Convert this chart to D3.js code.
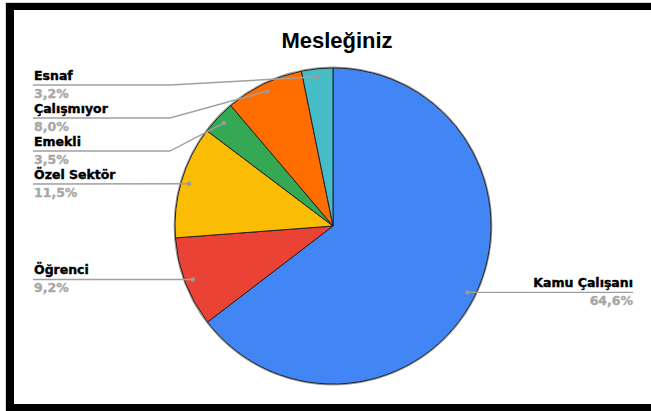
<!DOCTYPE html>
<html>
<head>
<meta charset="utf-8">
<script src="https://cdn.jsdelivr.net/npm/d3@7"></script>
<style>
  body { margin: 0; background: #fff; }
  svg { display: block; }
</style>
</head>
<body>
<svg></svg>
<script>
const categories = ["Kamu Çalışanı", "Öğrenci", "Özel Sektör", "Emekli", "Çalışmıyor", "Esnaf"];
const values = [64.6, 9.2, 11.5, 3.5, 8.0, 3.2];
const colors = ["#4285f4", "#ea4335", "#fbbc04", "#34a853", "#ff6d01", "#46bdc6"];
const title = "Mesleğiniz";

const width = 651;
const height = 411;

const svg = d3.select('svg')
  .attr("width", width)
  .attr("height", height)
  .attr("viewBox", [0, 0, width, height]);

// frame (cropped screenshot of a bordered chart)
svg.append("rect").attr("x", 0).attr("y", 0).attr("width", width).attr("height", height).attr("fill", "#fff");
svg.append("rect").attr("x", 5).attr("y", 2).attr("width", width).attr("height", 1).attr("fill", "#d8d8d8");
svg.append("rect").attr("x", 5).attr("y", 2).attr("width", 1).attr("height", height).attr("fill", "#d8d8d8");
svg.append("rect").attr("x", 6).attr("y", 3).attr("width", width).attr("height", 7).attr("fill", "#000");
svg.append("rect").attr("x", 6).attr("y", 3).attr("width", 8).attr("height", height).attr("fill", "#000");
svg.append("rect").attr("x", 6).attr("y", 404).attr("width", width).attr("height", 7).attr("fill", "#000");

svg.append("text")
  .attr("x", 337)
  .attr("y", 48)
  .attr("text-anchor", "middle")
  .attr("font-family", "Liberation Sans, Arial, sans-serif")
  .attr("font-weight", "bold")
  .attr("font-size", 22)
  .attr("fill", "#000")
  .text(title);

const cx = 333, cy = 226, radius = 158;

const data = categories.map((c, i) => ({name: c, value: values[i], color: colors[i]}));

const pie = d3.pie().sort(null).value(d => d.value);
const arcs = pie(data);

const arc = d3.arc().innerRadius(0).outerRadius(radius);
const dotArc = d3.arc().innerRadius(150).outerRadius(150);

const g = svg.append("g").attr("transform", `translate(${cx},${cy})`);

g.append("circle")
  .attr("r", radius + 0.8)
  .attr("fill", "none")
  .attr("stroke", "#9a9a9a")
  .attr("stroke-width", 1.2);

g.selectAll("path.slice")
  .data(arcs)
  .join("path")
  .attr("class", "slice")
  .attr("d", arc)
  .attr("fill", d => d.data.color)
  .attr("stroke", "#222")
  .attr("stroke-width", 1);

// label layout
const lineColor = "#a0a0a0";
const nameFont = "DejaVu Sans, Verdana, sans-serif";
const items = arcs.map(a => {
  const [x, y] = dotArc.centroid(a);
  return {a, dx: cx + x, dy: cy + y, right: x > 0};
});

const left = items.filter(d => !d.right).sort((p, q) => p.dy - q.dy);
let prev = -Infinity;
left.forEach(d => {
  d.ly = Math.max(d.dy, prev + 33, 85);
  prev = d.ly;
});
items.filter(d => d.right).forEach(d => { d.ly = d.dy; });

const labels = svg.append("g");

items.forEach(d => {
  const pts = d.right
    ? [[d.dx, d.dy], [633, d.ly]]
    : (Math.abs(d.ly - d.dy) < 1 ? [[33, d.ly], [d.dx, d.dy]] : [[33, d.ly], [170, d.ly], [d.dx, d.dy]]);
  labels.append("path")
    .attr("d", d3.line()(pts))
    .attr("fill", "none")
    .attr("stroke", lineColor)
    .attr("stroke-width", 1.4);
  labels.append("circle")
    .attr("cx", d.dx).attr("cy", d.dy).attr("r", 2.2)
    .attr("fill", "#9a9a9a");

  const tx = d.right ? 633 : 34;
  const anchor = d.right ? "end" : "start";
  labels.append("text")
    .attr("x", tx).attr("y", d.ly - 5)
    .attr("text-anchor", anchor)
    .attr("font-family", nameFont)
    .attr("font-weight", "bold")
    .attr("font-size", 12.5)
    .attr("fill", "#000")
    .attr("stroke", "#000")
    .attr("stroke-width", 0.4)
    .text(d.a.data.name);
  labels.append("text")
    .attr("x", tx).attr("y", d.ly + 13)
    .attr("text-anchor", anchor)
    .attr("font-family", nameFont)
    .attr("font-weight", "bold")
    .attr("font-size", 12.5)
    .attr("fill", "#a8a8a8")
    .attr("stroke", "#a8a8a8")
    .attr("stroke-width", 0.4)
    .text(d3.format(".1f")(d.a.data.value).replace(".", ",") + "%");
});
</script>
</body>
</html>
